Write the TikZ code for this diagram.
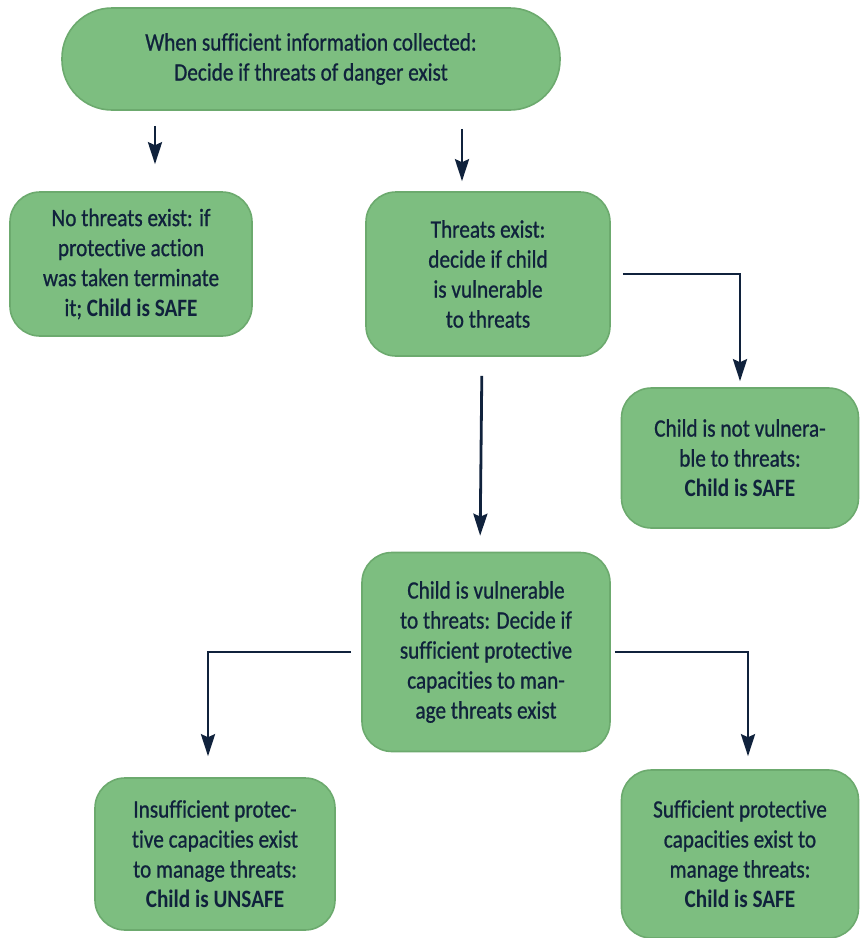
\documentclass[tikz,border=0pt]{standalone}
\usepackage{fontspec}
\setmainfont{Carlito}[FakeStretch=0.85, Ligatures=NoCommon, UprightFeatures={FakeBold=0.8}]
\usetikzlibrary{arrows.meta}
\definecolor{boxgreen}{RGB}{125, 190, 128}
\definecolor{boxedge}{RGB}{108, 170, 110}
\definecolor{navy}{RGB}{16, 34, 60}
\tikzset{
  decision/.style={fill=boxgreen, draw=boxedge, line width=0.8pt, rounded corners=15pt,
    align=center, text=navy, font=\fontsize{12.5}{15}\selectfont, inner sep=2pt},
  arr/.style={draw=navy, line width=1.4pt, -{Stealth[length=11pt, width=7pt, inset=1.5pt]}}
}

\begin{document}
\begin{tikzpicture}[x=0.5pt, y=-0.5pt]
\useasboundingbox (0, 0) rectangle (859, 938);
% boxes
\node[decision, rounded corners=25pt, minimum width=249pt, minimum height=51pt] (top) at (311, 59)
  {When sufficient information collected:\\Decide if threats of danger exist};
\node[decision, minimum width=121pt, minimum height=72pt] (nothreat) at (131, 264)
  {No threats exist: if\\protective action\\was taken terminate\\it; \textbf{Child is SAFE}};
\node[decision, minimum width=122pt, minimum height=82pt] (threat) at (488, 274)
  {Threats exist:\\decide if child\\is vulnerable\\to threats};
\node[decision, minimum width=118.5pt, minimum height=70pt] (notvul) at (740, 458)
  {Child is not vulnera-\\ble to threats:\\\textbf{Child is SAFE}};
\node[decision, minimum width=124pt, minimum height=99.5pt] (vul) at (486, 652)
  {Child is vulnerable\\to threats: Decide if\\sufficient protective\\capacities to man-\\age threats exist};
\node[decision, minimum width=120pt, minimum height=76pt] (unsafe) at (215, 854)
  {Insufficient protec-\\tive capacities exist\\to manage threats:\\\textbf{Child is UNSAFE}};
\node[decision, minimum width=118.5pt, minimum height=84pt] (suff) at (740, 854)
  {Sufficient protective\\capacities exist to\\manage threats:\\\textbf{Child is SAFE}};
% arrows
\draw[arr, shorten <=7.5pt, shorten >=13.5pt] ([xshift=12pt]nothreat.north |- top.south) -- ([xshift=12pt]nothreat.north);
\draw[arr, shorten <=9pt, shorten >=5pt] ([xshift=-13pt]threat.north |- top.south) -- ([xshift=-13pt]threat.north);
\draw[arr] ([xshift=6pt]threat.east) -| ([yshift=3pt]notvul.north);
\draw[arr, shorten <=9.5pt, shorten >=8pt] ([xshift=-3pt]threat.south) -- ([xshift=-3pt]vul.north);
\draw[arr] ([xshift=-5pt]vul.west) -| ([xshift=-3.5pt, yshift=10.5pt]unsafe.north);
\draw[arr] ([xshift=2pt]vul.east) -| ([xshift=4pt, yshift=6.5pt]suff.north);
\end{tikzpicture}
\end{document}
